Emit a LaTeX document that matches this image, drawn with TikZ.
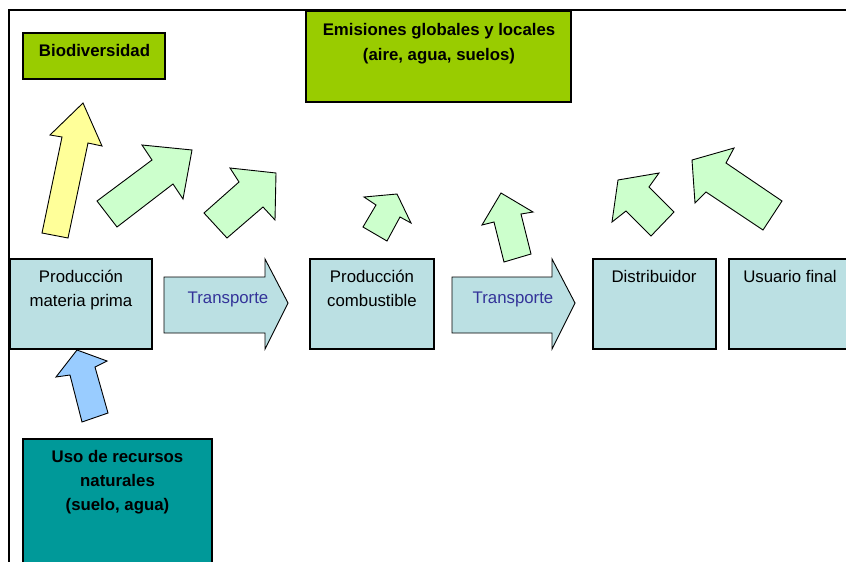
\documentclass[tikz,border=0pt]{standalone}
\usepackage{fontspec}
\setmainfont{Liberation Sans}
\definecolor{boxblue}{HTML}{BBE0E3}
\definecolor{lgreen}{HTML}{99CC00}
\definecolor{tealc}{HTML}{009999}
\definecolor{pgreen}{HTML}{CCFFCC}
\definecolor{pyellow}{HTML}{FFFF99}
\definecolor{pblue}{HTML}{99CCFF}
\definecolor{trtext}{HTML}{333399}
\begin{document}
\begin{tikzpicture}[x=1pt,y=-1pt,
  box/.style={draw=black, line width=1.1pt, anchor=north west, inner sep=0pt, outer sep=0pt},
  fatarrow/.style={draw=black, line width=0.9pt, line join=miter},
  txt/.style={anchor=base, inner sep=0pt, font=\fontsize{16.8}{24}\selectfont},
  btxt/.style={txt, font=\fontsize{16.8}{24}\selectfont\bfseries}
]
\useasboundingbox (0,0) rectangle (846,562);
\clip (0,0) rectangle (846,562);
\fill[white] (0,0) rectangle (846,562);

% boxes
\node[box, fill=lgreen, minimum width=142pt, minimum height=46pt] (bio) at (23,33) {};
\node[box, fill=lgreen, minimum width=265pt, minimum height=91pt] (emis) at (306,11) {};
\node[box, fill=boxblue, minimum width=142pt, minimum height=90pt] (pmp) at (10,259) {};
\node[box, fill=boxblue, minimum width=124pt, minimum height=90pt] (pcomb) at (310,259) {};
\node[box, fill=boxblue, minimum width=123pt, minimum height=90pt] (dist) at (593,259) {};
\node[box, fill=boxblue, minimum width=140pt, minimum height=90pt] (usu) at (729,259) {};
\node[box, fill=tealc, minimum width=189pt, minimum height=150pt] (uso) at (23,439) {};

% transport arrows
\draw[fatarrow, fill=boxblue] (164,277) -- (265,277) -- (265,259) -- (288,303) -- (265,349) -- (265,333) -- (164,333) -- cycle;
\draw[fatarrow, fill=boxblue] (452,277) -- (552,277) -- (552,259) -- (575,303) -- (552,349) -- (552,333) -- (452,333) -- cycle;

% impact arrows
\draw[fatarrow, fill=pyellow] (83,103) -- (102,146) -- (88,143) -- (68,238) -- (42,233) -- (62,137) -- (50,135) -- cycle;
\draw[fatarrow, fill=pgreen] (97,201) -- (152,160) -- (142,145) -- (192,150) -- (183,199) -- (173,184) -- (117,227) -- cycle;
\draw[fatarrow, fill=pgreen] (204,213) -- (239,182) -- (230,168) -- (276,173) -- (275,220) -- (263,207) -- (227,238) -- cycle;
\draw[fatarrow, fill=pgreen] (397,194) -- (411,223) -- (400,217) -- (387,241) -- (363,227) -- (376,205) -- (364,197) -- cycle;
\draw[fatarrow, fill=pgreen] (501,193) -- (533,212) -- (521,214) -- (531,254) -- (504,262) -- (494,222) -- (482,225) -- cycle;
\draw[fatarrow, fill=pgreen] (618,180) -- (659,173) -- (649,187) -- (674,212) -- (651,236) -- (626,211) -- (612,222) -- cycle;
\draw[fatarrow, fill=pgreen] (692,160) -- (734,148) -- (726,163) -- (782,201) -- (763,230) -- (706,192) -- (695,203) -- cycle;
\draw[fatarrow, fill=pblue] (77,350) -- (107,361) -- (95,367) -- (108,413) -- (82,422) -- (70,375) -- (56,377) -- cycle;

% texts
\node[btxt] (biot) at (94.5,56.5) {Biodiversidad};
\node[btxt] (emist1) at (439,35) {Emisiones globales y locales};
\node[btxt] (emist2) at (439,60) {(aire, agua, suelos)};
\node[txt] (pmpt1) at (81,282) {Producción};
\node[txt] (pmpt2) at (81,306) {materia prima};
\node[txt, text=trtext] (tr1) at (228,303.5) {Transporte};
\node[txt] (pcombt1) at (372,282) {Producción};
\node[txt] (pcombt2) at (372,306) {combustible};
\node[txt, text=trtext] (tr2) at (513,303.5) {Transporte};
\node[txt] (distt) at (654,282) {Distribuidor};
\node[txt] (usut) at (790,282) {Usuario final};
\node[btxt] (usot1) at (117.5,462) {Uso de recursos};
\node[btxt] (usot2) at (117.5,486) {naturales};
\node[btxt] (usot3) at (117.5,510.5) {(suelo, agua)};

% frame
\draw[line width=2.4pt] (9,580) -- (9,10) -- (860,10);
\end{tikzpicture}
\end{document}
